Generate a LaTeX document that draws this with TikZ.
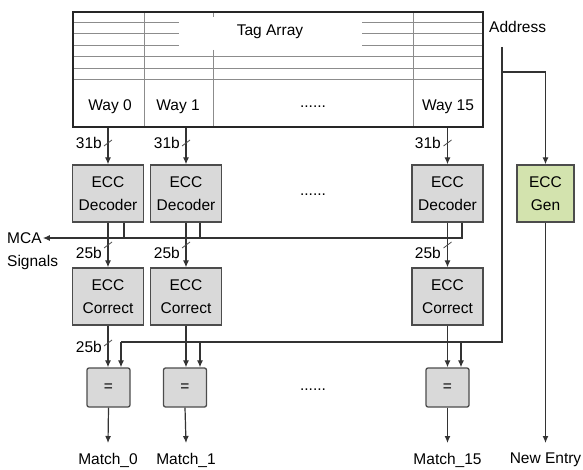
\documentclass[tikz,border=0pt]{standalone}
\usepackage{fontspec}
\setmainfont{Liberation Sans}
\usepackage{xcolor}
\usepackage{tikz}
\usetikzlibrary{arrows.meta,calc}
\definecolor{boxgray}{HTML}{D9D9D9}
\definecolor{gengreen}{HTML}{D3E3AE}
\tikzset{
  eccbox/.style={draw=black!70, fill=boxgray, line width=1.3pt, minimum width=71pt, minimum height=57pt, inner sep=0pt, align=center, font=\fontsize{15.5}{23}\selectfont},
  eqbox/.style={eccbox, minimum width=43pt, minimum height=39pt, rounded corners=2pt},
  wire/.style={draw=black!80, line width=1.2pt},
  bus/.style={wire, -{Latex[length=7pt,width=6pt]}},
  slash/.style={draw=black!70, line width=0.8pt},
  grid/.style={draw=black!45, line width=0.8pt},
  outlab/.style={anchor=north, inner ysep=10pt, inner xsep=0pt},
}
\begin{document}
\begin{tikzpicture}[x=1pt, y=-1pt, font=\fontsize{15.5}{17}\selectfont]
\useasboundingbox (0,0) rectangle (583,470);

\foreach \y in {22,33,45} {
  \draw [grid] (73,\y) -- (179,\y);
  \draw [grid] (362,\y) -- (483,\y);
}
\foreach \y in {56,68,79} \draw [grid] (73,\y) -- (483,\y);
\draw [grid] (144,12) -- (144,127);
\draw [grid] (213,12) -- (213,17) (213,50) -- (213,127);
\draw [grid] (413,12) -- (413,127);
\node [draw=black!85, line width=1.6pt, minimum width=410pt, minimum height=115pt, inner sep=0pt] (tag) at (278,69.5) {};

\node (tagname) at (270,32) {Tag Array};
\node (way0) at (110,107) {Way 0};
\node (way1) at (178,107) {Way 1};
\node (waydots) at (313,107) {......};
\node (way15) at (448,107) {Way 15};

\node [eccbox] (dec0) at (108,193.5) {ECC\\Decoder};
\node [eccbox] (dec1) at (186,193.5) {ECC\\Decoder};
\node (decdots) at (313,195) {......};
\node [eccbox] (dec15) at (447.5,193.5) {ECC\\Decoder};
\node [eccbox, fill=gengreen, minimum width=57pt] (gen) at (545.5,193.5) {ECC\\Gen};

\node [eccbox] (cor0) at (108,296.5) {ECC\\Correct};
\node [eccbox] (cor1) at (186,296.5) {ECC\\Correct};
\node [eccbox] (cor15) at (447.5,296.5) {ECC\\Correct};

\node [eqbox] (eq0) at (108.5,387.5) {=};
\node [eqbox] (eq1) at (185,387.5) {=};
\node (eqdots) at (313,390) {......};
\node [eqbox] (eq15) at (447.5,387.5) {=};

\node [outlab] (match0) at (108,443) {Match\_0};
\node [outlab] (match1) at (186,443) {Match\_1};
\node [outlab] (match15) at (447.5,443) {Match\_15};
\node [outlab] (newentry) at (545.5,443) {New Entry};

\foreach \n in {0,1,15} {
  \draw [bus] (tag.south -| dec\n.north) -- (dec\n.north);
  \draw [slash] ($(dec\n.north |- 0,143)+(-4,3)$) -- ++(8,-6);
  \draw [bus] (dec\n.south) -- (cor\n.north);
  \draw [slash] ($(dec\n.south |- 0,245)+(-4,3)$) -- ++(8,-6);
  \draw [bus] (cor\n.south) -- (cor\n.south |- eq\n.north);
  \draw [bus] (eq\n.south) -- (match\n.north);
}
\draw [slash] (104,346) -- ++(8,-6);

\node [anchor=east, inner sep=1pt] (w0) at (103,143) {31b};
\node [anchor=east, inner sep=1pt] (w1) at (181,143) {31b};
\node [anchor=east, inner sep=1pt] (w15) at (442,143) {31b};
\node [anchor=east, inner sep=1pt] (c0) at (103,253) {25b};
\node [anchor=east, inner sep=1pt] (c1) at (181,253) {25b};
\node [anchor=east, inner sep=1pt] (c15) at (442,253) {25b};
\node [anchor=east, inner sep=1pt] (e0) at (103,347) {25b};

\node [anchor=west, inner sep=1pt] (mca) at (6,238) {MCA};
\node [anchor=west, inner sep=1pt] (signals) at (6,262) {Signals};
\coordinate (mca0) at (124,238);
\coordinate (mca1) at (200,238);
\coordinate (mca15) at (462,238);
\draw [wire] (dec0.south -| mca0) -- (mca0);
\draw [wire] (dec1.south -| mca1) -- (mca1);
\draw [bus] (dec15.south -| mca15) -- (mca15) -- (mca.east);

\node [anchor=west, inner sep=1pt] (addr) at (488,27) {Address};
\coordinate (atop) at (502,47);
\coordinate (asplit) at (502,72);
\coordinate (abot) at (502,342);
\coordinate (a0) at (121,342);
\coordinate (a1) at (200,342);
\coordinate (a15) at (461,342);
\draw [wire] (atop) -- (abot) -- (a0);
\draw [bus] (asplit) -| (gen.north);
\draw [bus] (a0) -- (a0 |- eq0.north);
\draw [bus] (a1) -- (a1 |- eq1.north);
\draw [bus] (a15) -- (a15 |- eq15.north);
\draw [bus] (gen.south) -- (newentry.north);
\end{tikzpicture}
\end{document}
